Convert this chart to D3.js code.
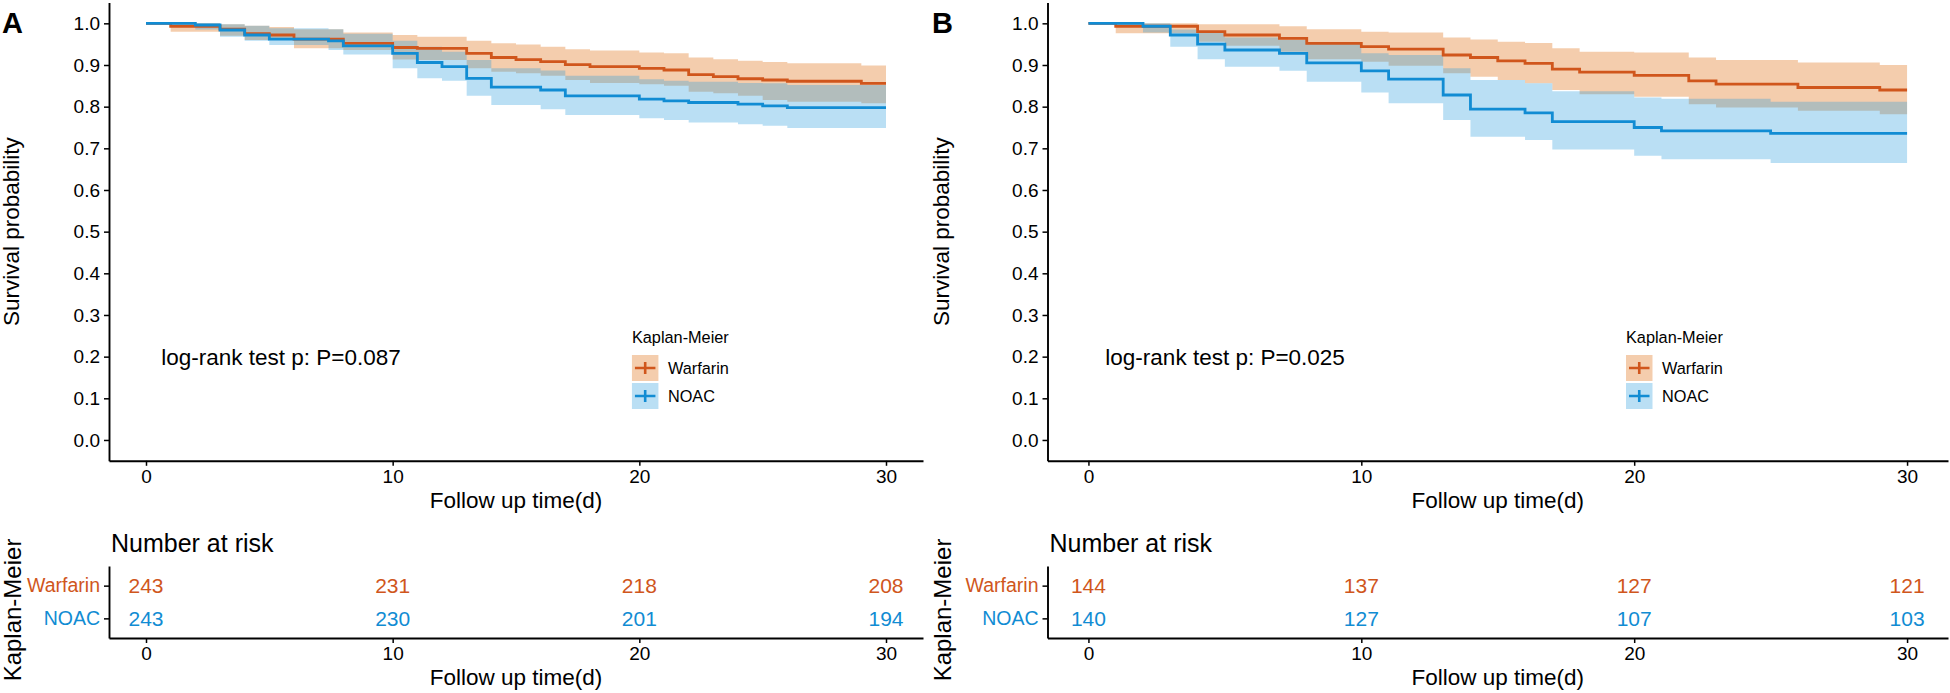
<!DOCTYPE html>
<html>
<head>
<meta charset="utf-8">
<script src="https://cdn.jsdelivr.net/npm/d3@7"></script>
<style>
  body { margin: 0; background: #fff; }
  text { font-family: "Liberation Sans", Arial, sans-serif; }
</style>
</head>
<body>
<script>
// ---- data ----
const groups = ['Warfarin', 'NOAC'];
const timeTicks = [0, 10, 20, 30];
const survTicks = [0, 0.1, 0.2, 0.3, 0.4, 0.5, 0.6, 0.7, 0.8, 0.9, 1.0];
const followUpEnd = 30;

// panel A
const aWarfarinTime  = [0, 1, 3, 4, 5, 6, 8, 10, 11, 13, 14, 15, 16, 17, 18, 20, 21, 22, 23, 24, 25, 26, 29];
const aWarfarinSurv  = [1, .993, .986, .975, .972, .962, .952, .942, .940, .928, .918, .913, .908, .901, .896, .892, .888, .877, .872, .867, .864, .861, .856];
const aWarfarinUpper = [1, 1, .998, .994, .991, .986, .978, .972, .968, .958, .952, .949, .944, .938, .935, .930, .928, .918, .914, .910, .907, .904, .899];
const aWarfarinLower = [1, .980, .970, .960, .960, .940, .936, .913, .912, .892, .884, .880, .874, .864, .857, .854, .850, .836, .832, .826, .816, .812, .808];

const aNoacTime  = [0, 2, 3, 4, 5, 7.4, 8, 10, 11, 12, 13, 14, 16, 17, 20, 21, 22, 24, 25, 26];
const aNoacSurv  = [1, .996, .984, .972, .962, .958, .946, .928, .906, .896, .868, .847, .840, .826, .818, .814, .810, .806, .802, .7975];
const aNoacUpper = [1, 1, .998, .994, .988, .986, .975, .958, .944, .932, .912, .892, .887, .874, .866, .862, .860, .857, .856, .852];
const aNoacLower = [1, .985, .968, .958, .948, .936, .925, .892, .868, .862, .826, .804, .794, .780, .772, .768, .762, .758, .754, .749];

const aRiskWarfarin = [243, 231, 218, 208];
const aRiskNoac     = [243, 230, 201, 194];
const aPText = 'log-rank test p: P=0.087';

// panel B
const bWarfarinTime  = [0, 1, 4, 5, 7, 8, 10, 11, 13, 14, 15, 16, 17, 18, 20, 22, 23, 26, 29];
const bWarfarinSurv  = [1, .993, .980, .972, .964, .952, .944, .938, .924, .918, .910, .904, .890, .883, .875, .862, .854, .846, .840];
const bWarfarinUpper = [1, 1, .998, .998, .993, .986, .980, .978, .966, .961, .956, .953, .940, .932, .930, .918, .912, .906, .900];
const bWarfarinLower = [1, .976, .956, .946, .932, .914, .908, .898, .880, .872, .864, .856, .840, .830, .824, .806, .798, .790, .782];

const bNoacTime  = [0, 2, 3, 4, 5, 7, 8, 10, 11, 13, 14, 16, 17, 20, 21, 25];
const bNoacSurv  = [1, .993, .972, .950, .936, .928, .905, .886, .866, .828, .794, .785, .764, .750, .742, .736];
const bNoacUpper = [1, 1, .985, .978, .966, .960, .952, .928, .924, .892, .864, .856, .837, .822, .819, .812];
const bNoacLower = [1, .978, .944, .914, .896, .886, .860, .834, .808, .768, .728, .720, .697, .682, .674, .665];

const bRiskWarfarin = [144, 137, 127, 121];
const bRiskNoac     = [140, 127, 107, 103];
const bPText = 'log-rank test p: P=0.025';

// ---- drawing ----
const width = 1950;
const height = 693;

const lineColor = { Warfarin: '#D0561C', NOAC: '#118CD3' };
const bandColor = { Warfarin: '#DC6400', NOAC: '#289BDC' };

const svg = d3.select('body').append('svg')
  .attr('width', width)
  .attr('height', height);

const y = d3.scaleLinear().domain([-0.05, 1.05]).range([460.8, 2.5]);
const yRisk = d3.scalePoint().domain(groups).range([566, 638]).padding(0.6);

const panels = [
  {
    label: 'A', labelX: 2, xRange: [109, 923], pText: aPText,
    series: [
      { name: 'Warfarin', time: aWarfarinTime, surv: aWarfarinSurv, upper: aWarfarinUpper, lower: aWarfarinLower, risk: aRiskWarfarin },
      { name: 'NOAC', time: aNoacTime, surv: aNoacSurv, upper: aNoacUpper, lower: aNoacLower, risk: aRiskNoac }
    ]
  },
  {
    label: 'B', labelX: 932, xRange: [1047.5, 1948], pText: bPText,
    series: [
      { name: 'Warfarin', time: bWarfarinTime, surv: bWarfarinSurv, upper: bWarfarinUpper, lower: bWarfarinLower, risk: bRiskWarfarin },
      { name: 'NOAC', time: bNoacTime, surv: bNoacSurv, upper: bNoacUpper, lower: bNoacLower, risk: bRiskNoac }
    ]
  }
];

const styleAxis = (g, size) => {
  g.attr('font-size', null).attr('font-family', null);
  g.select('.domain').attr('stroke', '#000').attr('stroke-width', 1.9);
  g.selectAll('.tick line').attr('stroke', '#000').attr('stroke-width', 1.5);
  g.selectAll('.tick text').attr('fill', '#000').style('font-size', size + 'px');
};

const drawPanel = (p) => {
  const g = svg.append('g');
  const x = d3.scaleLinear().domain([-1.5, 31.5]).range(p.xRange);
  const left = p.xRange[0];

  p.series.forEach(s => {
    s.pts = s.time.map((t, i) => ({ t: t, s: s.surv[i], hi: s.upper[i], lo: s.lower[i] }));
    const last = s.pts[s.pts.length - 1];
    s.pts.push({ t: followUpEnd, s: last.s, hi: last.hi, lo: last.lo });
  });

  const band = d3.area().curve(d3.curveStepAfter)
    .x(d => x(d.t)).y0(d => y(d.lo)).y1(d => y(d.hi));
  const step = d3.line().curve(d3.curveStepAfter)
    .x(d => x(d.t)).y(d => y(d.s));

  // confidence bands
  g.selectAll('path.band')
    .data(p.series)
    .enter()
    .append('path')
    .attr('class', 'band')
    .attr('d', d => band(d.pts))
    .attr('fill', d => bandColor[d.name])
    .attr('fill-opacity', 0.32);

  // survival curves
  g.selectAll('path.km')
    .data(p.series)
    .enter()
    .append('path')
    .attr('class', 'km')
    .attr('d', d => step(d.pts))
    .attr('fill', 'none')
    .attr('stroke', d => lineColor[d.name])
    .attr('stroke-width', 2.8);

  // censor marks at end of follow up
  g.selectAll('path.cens')
    .data(p.series)
    .enter()
    .append('path')
    .attr('class', 'cens')
    .attr('d', d => {
      const cx = x(followUpEnd), cy = y(d.s);
      return `M${cx - 8},${cy}H${cx + 8}M${cx},${cy - 8}V${cy + 8}`;
    })
    .attr('stroke', d => lineColor[d.name])
    .attr('stroke-width', 2);

  // axes
  g.append('g')
    .attr('transform', `translate(${left},0)`)
    .call(d3.axisLeft(y).tickValues(survTicks).tickFormat(d3.format('.1f')).tickSize(5).tickSizeOuter(0).tickPadding(4))
    .call(a => styleAxis(a, 19));

  g.append('g')
    .attr('transform', `translate(0,${y.range()[0]})`)
    .call(d3.axisBottom(x).tickValues(timeTicks).tickSize(5).tickSizeOuter(0).tickPadding(4))
    .call(a => styleAxis(a, 19));

  const mid = (p.xRange[0] + p.xRange[1]) / 2;

  g.append('text')
    .attr('x', mid).attr('y', 508)
    .attr('text-anchor', 'middle')
    .style('font-size', '22.5px')
    .text('Follow up time(d)');

  g.append('text')
    .attr('transform', `translate(${p.labelX + 17},${(y.range()[0] + y.range()[1]) / 2}) rotate(-90)`)
    .attr('text-anchor', 'middle')
    .style('font-size', '22.5px')
    .text('Survival probability');

  g.append('text')
    .attr('x', p.labelX).attr('y', 33)
    .style('font-size', '29px')
    .style('font-weight', 'bold')
    .text(p.label);

  // log-rank annotation
  g.append('text')
    .attr('x', x(0.62)).attr('y', y(0.2))
    .attr('dy', '0.36em')
    .style('font-size', '22.5px')
    .text(p.pText);

  // legend
  const lx = x(19.7);
  const legend = g.append('g').attr('transform', `translate(${lx},0)`);
  legend.append('text')
    .attr('x', 0).attr('y', 337).attr('dy', '0.36em')
    .style('font-size', '16.3px')
    .text('Kaplan-Meier');
  groups.forEach((name, i) => {
    const top = 355 + i * 28;
    legend.append('rect')
      .attr('x', 0).attr('y', top).attr('width', 26.5).attr('height', 26)
      .attr('fill', bandColor[name]).attr('fill-opacity', 0.32);
    legend.append('path')
      .attr('d', `M3,${top + 13}H23.5M13.25,${top + 7}V${top + 19}`)
      .attr('stroke', lineColor[name]).attr('stroke-width', 2.6);
    legend.append('text')
      .attr('x', 36).attr('y', top + 13).attr('dy', '0.36em')
      .style('font-size', '16.3px')
      .text(name);
  });

  // risk table
  g.append('text')
    .attr('x', left + 2).attr('y', 552)
    .style('font-size', '25px')
    .text('Number at risk');

  const ya = g.append('g')
    .attr('transform', `translate(${left},0)`)
    .call(d3.axisLeft(yRisk).tickSize(5).tickSizeOuter(0).tickPadding(4))
    .call(a => styleAxis(a, 19.5));
  ya.selectAll('.tick text').attr('fill', d => lineColor[d]);

  g.append('g')
    .attr('transform', `translate(0,${yRisk.range()[1]})`)
    .call(d3.axisBottom(x).tickValues(timeTicks).tickSize(5).tickSizeOuter(0).tickPadding(4))
    .call(a => styleAxis(a, 19));

  p.series.forEach(s => {
    g.selectAll(null)
      .data(s.risk)
      .enter()
      .append('text')
      .attr('x', (d, i) => x(timeTicks[i]))
      .attr('y', yRisk(s.name))
      .attr('dy', '0.36em')
      .attr('text-anchor', 'middle')
      .attr('fill', lineColor[s.name])
      .style('font-size', '21px')
      .text(d => d);
  });

  g.append('text')
    .attr('x', mid).attr('y', 685)
    .attr('text-anchor', 'middle')
    .style('font-size', '22.5px')
    .text('Follow up time(d)');

  g.append('text')
    .attr('transform', `translate(${p.labelX + 19},610) rotate(-90)`)
    .attr('text-anchor', 'middle')
    .style('font-size', '24px')
    .text('Kaplan-Meier');
};

panels.forEach(drawPanel);
</script>
</body>
</html>
